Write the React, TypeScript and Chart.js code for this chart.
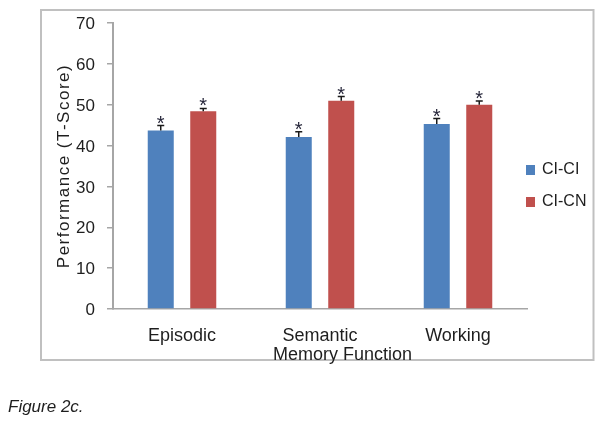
import React, { useEffect, useRef } from "react";
import { Chart, registerables } from "chart.js";

Chart.register(...registerables);

const categories = ["Episodic", "Semantic", "Working"];
const seriesNames = ["CI-CI", "CI-CN"];
const ciCiValues = [43.7, 42.1, 45.3];
const ciCnValues = [48.4, 51.0, 50.0];
const ciCiErrors = [1.2, 1.3, 1.3];
const ciCnErrors = [0.7, 1.0, 0.9];
const yTicks = [0, 10, 20, 30, 40, 50, 60, 70];
const xTitle = "Memory Function";
const yTitle = "Performance (T-Score)";
const caption = "Figure 2c.";
const seriesColors = ["#4F81BD", "#C0504D"];

const NARROW = "'Liberation Sans Narrow', 'Arial Narrow', 'Liberation Sans', Arial, sans-serif";
const SANS = "'Liberation Sans', Arial, sans-serif";
const TEXT = "#1e1e1e";

const decor = {
  id: "decor",
  beforeDraw(chart: any) {
    const ctx = chart.ctx;
    ctx.save();
    ctx.strokeStyle = "#c0c0c0";
    ctx.lineWidth = 2;
    ctx.strokeRect(41, 10, 552.5, 350);
    ctx.restore();
  },
  afterDatasetsDraw(chart: any) {
    const ctx = chart.ctx;
    const yScale = chart.scales.y;
    const errs = [ciCiErrors, ciCnErrors];
    ctx.save();
    chart.data.datasets.forEach((ds: any, di: number) => {
      const meta = chart.getDatasetMeta(di);
      meta.data.forEach((bar: any, i: number) => {
        const v = ds.data[i];
        const e = errs[di][i];
        const x = bar.x;
        const yTop = yScale.getPixelForValue(v + e);
        const yBar = yScale.getPixelForValue(v);
        ctx.strokeStyle = "#1a1a1a";
        ctx.lineWidth = 1.5;
        ctx.beginPath();
        ctx.moveTo(x, yBar);
        ctx.lineTo(x, yTop);
        ctx.moveTo(x - 3.5, yTop);
        ctx.lineTo(x + 3.5, yTop);
        ctx.stroke();
        ctx.fillStyle = "#26263a";
        ctx.font = "20px " + SANS;
        ctx.textAlign = "center";
        ctx.textBaseline = "alphabetic";
        ctx.fillText("*", x, yTop + 4);
      });
    });
    ctx.restore();
  },
  afterDraw(chart: any) {
    const ctx = chart.ctx;
    const area = chart.chartArea;
    ctx.save();
    ctx.fillStyle = TEXT;
    ctx.font = "17px " + SANS;
    (ctx as any).letterSpacing = "1.5px";
    ctx.textAlign = "center";
    ctx.textBaseline = "middle";
    ctx.translate(64, (area.top + area.bottom) / 2);
    ctx.rotate(-Math.PI / 2);
    ctx.fillText(yTitle, 0, 0);
    ctx.restore();

    ctx.save();
    ctx.fillStyle = TEXT;
    ctx.font = "18px " + SANS;
    ctx.textAlign = "center";
    ctx.textBaseline = "alphabetic";
    ctx.fillText(xTitle, 342.5, 360);
    ctx.restore();

    ctx.save();
    const legendY = [170, 202];
    seriesNames.forEach((name, i) => {
      ctx.fillStyle = seriesColors[i];
      ctx.fillRect(526, legendY[i] - 5, 9, 10);
      ctx.fillStyle = TEXT;
      ctx.font = "16px " + NARROW;
      ctx.textAlign = "left";
      ctx.textBaseline = "middle";
      ctx.fillText(name, 542, legendY[i]);
    });
    ctx.restore();
  },
};

export default function App() {
  const canvasRef = useRef<HTMLCanvasElement | null>(null);

  useEffect(() => {
    if (!canvasRef.current) return;
    const chart = new Chart(canvasRef.current, {
      type: "bar",
      data: {
        labels: categories,
        datasets: [
          {
            label: seriesNames[0],
            data: ciCiValues,
            backgroundColor: seriesColors[0],
            categoryPercentage: 0.616,
            barPercentage: 0.612,
          },
          {
            label: seriesNames[1],
            data: ciCnValues,
            backgroundColor: seriesColors[1],
            categoryPercentage: 0.616,
            barPercentage: 0.612,
          },
        ],
      },
      options: {
        responsive: false,
        animation: false,
        devicePixelRatio: 1,
        layout: { padding: { left: 0, right: 77, top: 23, bottom: 0 } },
        plugins: {
          legend: { display: false },
          tooltip: { enabled: false },
        },
        scales: {
          x: {
            grid: { display: false, drawTicks: false },
            border: { display: true, color: "#a6a6a6", width: 1.5 },
            ticks: {
              padding: 16,
              color: TEXT,
              font: { family: SANS, size: 18 },
              maxRotation: 0,
            },
            afterFit: (s: any) => {
              s.height = 116;
            },
          },
          y: {
            min: 0,
            max: 70,
            grid: {
              drawOnChartArea: false,
              drawTicks: true,
              tickLength: 6,
              color: "#a6a6a6",
              lineWidth: 1.5,
            },
            border: { display: true, color: "#a6a6a6", width: 2 },
            ticks: {
              padding: 12,
              labelOffset: 1.5,
              color: TEXT,
              font: { family: NARROW, size: 17 },
            },
            afterBuildTicks: (s: any) => {
              s.ticks = yTicks.map((v) => ({ value: v }));
            },
            afterFit: (s: any) => {
              s.width = 113;
            },
          },
        },
      },
      plugins: [decor],
    });
    return () => chart.destroy();
  }, []);

  return (
    <div style={{ position: "absolute", left: 0, top: 0, width: 604, height: 425, background: "#fff" }}>
      <canvas ref={canvasRef} width={604} height={425} style={{ display: "block", width: 604, height: 425 }} />
      <div
        style={{
          position: "absolute",
          left: 8,
          top: 398,
          fontFamily: SANS,
          fontStyle: "italic",
          fontSize: 17,
          lineHeight: "17px",
          color: TEXT,
          whiteSpace: "nowrap",
        }}
      >
        {caption}
      </div>
    </div>
  );
}
